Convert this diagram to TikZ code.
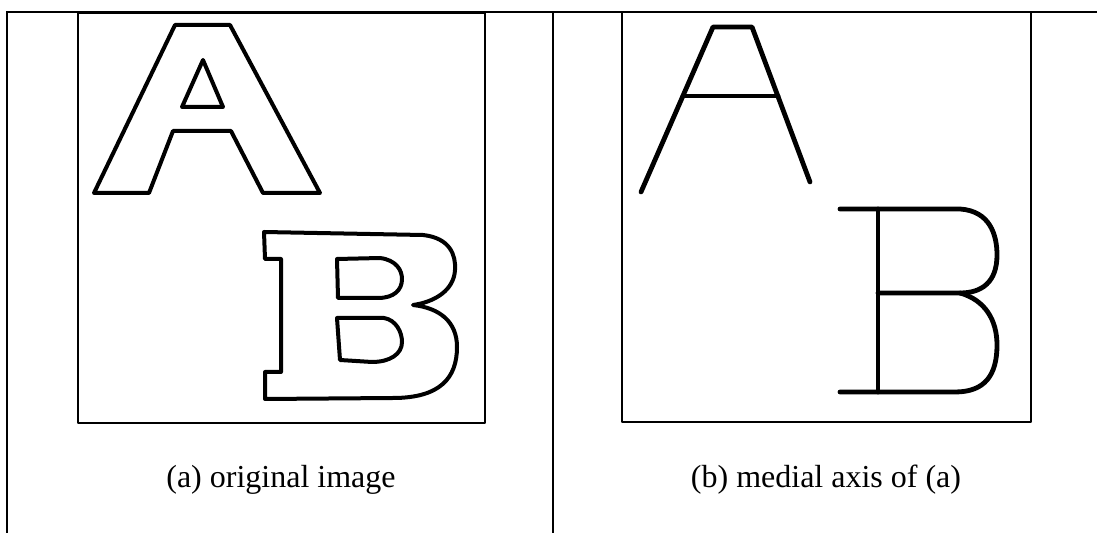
\documentclass[tikz,border=0pt]{standalone}
\usepackage{fontspec}
\setmainfont{Liberation Serif}

\begin{document}
\begin{tikzpicture}[x=0.5pt, y=-0.5pt, line join=round,
    frame/.style={line width=1pt},
    panel/.style={line width=0.8pt},
    outline/.style={line width=2pt},
    medial/.style={line width=2.4pt, line cap=round},
    caption/.style={font=\fontsize{16}{19}\selectfont, anchor=base}]

    % --- Page area ---
    \useasboundingbox (0,0) rectangle (1097,533);

    % --- Frame lines ---
    \draw[frame] (6,12) -- (1097,12);
    \draw[frame] (6.5,12) -- (6.5,533);
    \draw[frame] (553,12) -- (553,533);

    % --- Panel boxes ---
    \draw[panel] (78,13) rectangle (485,423);
    \draw[panel] (622,12) rectangle (1031,422);

    % --- (a) Letter A, outline ---
    \draw[outline] (175,25) -- (230,25) -- (320,193) -- (263,193) -- (231,131)
        -- (173,131) -- (149,193) -- (94,193) -- cycle;
    \draw[outline] (203,60) -- (223,107) -- (182,107) -- cycle;

    % --- (a) Letter B, outline ---
    \draw[outline] (264,232) -- (423,235)
        .. controls (450,238) and (456,255) .. (455,270)
        .. controls (454,290) and (435,302) .. (413,305)
        .. controls (440,308) and (457,322) .. (457,347)
        .. controls (457,378) and (440,398) .. (393,398)
        -- (265,399) -- (265,372) -- (281,372) -- (281,259)
        -- (265,259) -- cycle;
    \draw[outline] (337,259) -- (380,258)
        .. controls (396,260) and (402,270) .. (402,279)
        .. controls (402,290) and (394,298) .. (378,298)
        -- (338,298) -- cycle;
    \draw[outline] (337,318) -- (384,318)
        .. controls (396,320) and (402,332) .. (402,342)
        .. controls (402,354) and (390,362) .. (372,362)
        -- (340,360) -- cycle;

    % --- (b) Medial axis of A ---
    \draw[medial] (641,192) -- (713,27) -- (752,27) -- (810,182);
    \draw[medial] (683,96) -- (778,96);

    % --- (b) Medial axis of B ---
    \draw[medial] (878,209) -- (878,392);
    \draw[medial] (840,209) -- (960,209)
        .. controls (990,211) and (997,235) .. (997,255)
        .. controls (997,282) and (982,293) .. (960,293) -- (878,293);
    \draw[medial] (960,293)
        .. controls (985,300) and (997,320) .. (997,345)
        .. controls (997,375) and (985,392) .. (955,392) -- (840,392);

    % --- Captions ---
    \node[caption] (capA) at (281,488) {(a) original image};
    \node[caption] (capB) at (826,488) {(b) medial axis of (a)};

\end{tikzpicture}
\end{document}
